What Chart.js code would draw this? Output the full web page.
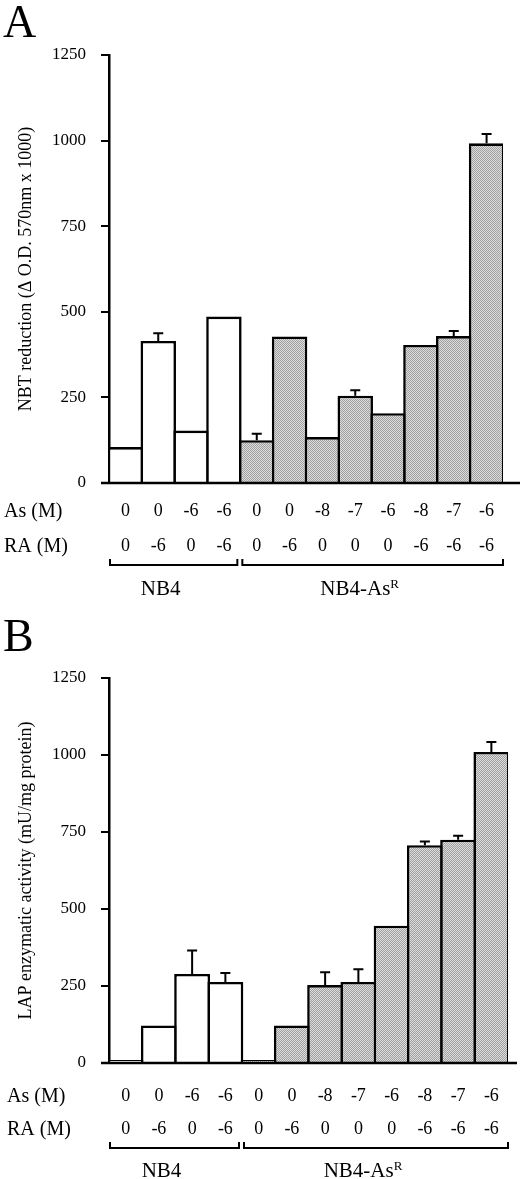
<!DOCTYPE html>
<html><head><meta charset="utf-8">
<script src="https://cdn.jsdelivr.net/npm/chart.js@4/dist/chart.umd.min.js"></script>
<style>
html,body{margin:0;padding:0;background:#fff;width:520px;height:1179px;overflow:hidden}
canvas{position:absolute;left:0}
#cA{top:0}
#cB{top:605px}
</style></head><body>
<canvas id="cA" width="520" height="605"></canvas>
<canvas id="cB" width="520" height="574"></canvas>
<script>
// ---- data ----
const asConc = ['0','0','-6','-6','0','0','-8','-7','-6','-8','-7','-6'];
const raConc = ['0','-6','0','-6','0','-6','0','0','0','-6','-6','-6'];
const cellLine = ['NB4','NB4','NB4','NB4','NB4-AsR','NB4-AsR','NB4-AsR','NB4-AsR','NB4-AsR','NB4-AsR','NB4-AsR','NB4-AsR'];
const groupMain = {'NB4':'NB4','NB4-AsR':'NB4-As'};
const groupSup = {'NB4':'','NB4-AsR':'R'};
const nbtValues = [105, 415, 153, 486, 125, 428, 134, 255, 204, 403, 429, 992];
const nbtErrors = [0, 22, 0, 0, 19, 0, 0, 16, 0, 0, 15, 27];
const lapValues = [10, 122, 289, 263, 10, 122, 253, 263, 446, 707, 725, 1010];
const lapErrors = [0, 0, 76, 29, 0, 0, 42, 41, 0, 12, 13, 32];
const yTickValues = [0, 250, 500, 750, 1000, 1250];
const rowLabels = ['As (M)', 'RA (M)'];
const titleA = 'NBT reduction (\u0394 O.D. 570nm x 1000)';
const titleB = 'LAP enzymatic activity (mU/mg protein)';

const SERIF = "'Liberation Serif', 'DejaVu Serif', serif";

function makePattern(ctx){
  const p = document.createElement('canvas'); p.width = 2; p.height = 2;
  const g = p.getContext('2d');
  g.fillStyle = '#dcdcdc'; g.fillRect(0,0,2,2);
  g.fillStyle = '#a0a0a0'; g.fillRect(0,0,1,1); g.fillRect(1,1,1,1);
  return ctx.createPattern(p, 'repeat');
}

const decor = {
  id: 'decor',
  afterDatasetsDraw(chart, args, o) {
    const ctx = chart.ctx, xs = chart.scales.x, ys = chart.scales.y;
    const vals = chart.data.datasets[0].data;
    ctx.save();
    ctx.strokeStyle = '#000'; ctx.lineWidth = 2;
    o.errors.forEach((e, i) => {
      if (!e) return;
      const x = xs.getPixelForValue(i);
      const y0 = ys.getPixelForValue(vals[i]);
      const y1 = ys.getPixelForValue(vals[i] + e);
      ctx.beginPath();
      ctx.moveTo(x, y0); ctx.lineTo(x, y1);
      ctx.moveTo(x - 5, y1); ctx.lineTo(x + 5, y1);
      ctx.stroke();
    });
    ctx.restore();
  },
  afterDraw(chart, args, o) {
    const ctx = chart.ctx, xs = chart.scales.x, ca = chart.chartArea;
    ctx.save();
    // extended x axis line
    ctx.strokeStyle = '#000'; ctx.lineWidth = 2.5;
    ctx.beginPath();
    ctx.moveTo(ca.left - 8, ca.bottom); ctx.lineTo(o.axisRight, ca.bottom);
    ctx.stroke();
    // row labels aligned with the tick label lines
    const y1 = xs.top + xs.options.ticks.padding + o.rowGap / 2;
    ctx.fillStyle = '#000';
    ctx.font = '20px ' + SERIF;
    ctx.textBaseline = 'middle'; ctx.textAlign = 'left';
    rowLabels.forEach((t, k) => ctx.fillText(t, o.rowX, y1 + k * o.rowGap));
    // brackets and group labels
    const slot = xs.getPixelForValue(1) - xs.getPixelForValue(0);
    const runs = [];
    cellLine.forEach((c, i) => {
      if (runs.length && runs[runs.length-1].name === c) runs[runs.length-1].end = i;
      else runs.push({name: c, start: i, end: i});
    });
    ctx.lineWidth = 2;
    runs.forEach((r, k) => {
      const l = xs.getPixelForValue(r.start) - slot/2 + (k === 0 ? 1 : 2);
      const rt = xs.getPixelForValue(r.end) + slot/2 - (k === runs.length - 1 ? 0 : 3);
      const by = o.bracketY;
      ctx.beginPath();
      ctx.moveTo(l, by - 6); ctx.lineTo(l, by); ctx.lineTo(rt, by); ctx.lineTo(rt, by - 6);
      ctx.stroke();
      const main = groupMain[r.name], sup = groupSup[r.name];
      ctx.font = '21px ' + SERIF;
      const wm = ctx.measureText(main).width;
      ctx.font = '13px ' + SERIF;
      const ws = sup ? ctx.measureText(sup).width : 0;
      const cx = (l + rt) / 2 - 13;
      const sx = cx - (wm + ws) / 2;
      ctx.textBaseline = 'alphabetic'; ctx.textAlign = 'left';
      ctx.font = '21px ' + SERIF;
      ctx.fillText(main, sx, o.groupY);
      if (sup) { ctx.font = '13px ' + SERIF; ctx.fillText(sup, sx + wm, o.groupY - 7); }
    });
    // panel letter
    ctx.font = '46px ' + SERIF;
    ctx.textBaseline = 'alphabetic'; ctx.textAlign = 'left';
    ctx.fillText(o.letter, 3, o.letterY);
    ctx.restore();
  }
};

function build(id, values, errors, title, cfg) {
  const canvas = document.getElementById(id);
  const ctx = canvas.getContext('2d');
  const pattern = makePattern(ctx);
  const H = canvas.height;
  return new Chart(ctx, {
    type: 'bar',
    data: {
      labels: asConc.map((a, i) => [a, raConc[i]]),
      datasets: [{
        data: values,
        backgroundColor: c => cellLine[c.dataIndex] === 'NB4' ? '#ffffff' : pattern,
        borderColor: '#000',
        borderWidth: 2.6,
        borderSkipped: 'start',
        barPercentage: 1.08,
        categoryPercentage: 1
      }]
    },
    options: {
      responsive: false,
      animation: false,
      layout: { padding: { top: cfg.top, left: 0, right: cfg.right, bottom: 0 } },
      plugins: {
        legend: { display: false },
        tooltip: { enabled: false },
        decor: {
          errors: errors, letter: cfg.letter, letterY: cfg.letterY,
          axisRight: cfg.axisRight, rowX: cfg.rowX, rowGap: cfg.rowGap,
          bracketY: cfg.bracketY, groupY: cfg.groupY
        }
      },
      scales: {
        x: {
          grid: { display: false, drawTicks: false },
          border: { display: false },
          ticks: {
            color: '#000', autoSkip: false, maxRotation: 0, minRotation: 0,
            padding: cfg.tickPad,
            font: { family: SERIF, size: 18, lineHeight: cfg.rowGap + 'px' }
          },
          afterFit: s => { s.height = H - cfg.bottom; }
        },
        y: {
          min: 0, max: 1250,
          afterBuildTicks: s => { s.ticks = yTickValues.map(v => ({ value: v })); },
          ticks: { color: '#000', padding: 15, font: { family: SERIF, size: 17 }, callback: v => String(v) },
          grid: { drawOnChartArea: false, drawTicks: true, tickLength: 8, color: '#000', lineWidth: 2 },
          border: { display: true, color: '#000', width: 2.5 },
          title: { display: true, text: title, color: '#000', font: { family: SERIF, size: 18 }, padding: { top: 15, bottom: 0 } },
          afterFit: s => { s.width = 109; }
        }
      }
    },
    plugins: [decor]
  });
}

build('cA', nbtValues, nbtErrors, titleA, {
  top: 55, bottom: 483, right: 17, letter: 'A', letterY: 37, axisRight: 520,
  rowX: 4, rowGap: 35, tickPad: 11, bracketY: 565, groupY: 595
});
build('cB', lapValues, lapErrors, titleB, {
  top: 73, bottom: 458, right: 12, letter: 'B', letterY: 46, axisRight: 517,
  rowX: 7, rowGap: 33, tickPad: 17, bracketY: 543, groupY: 572
});
</script>
</body></html>
